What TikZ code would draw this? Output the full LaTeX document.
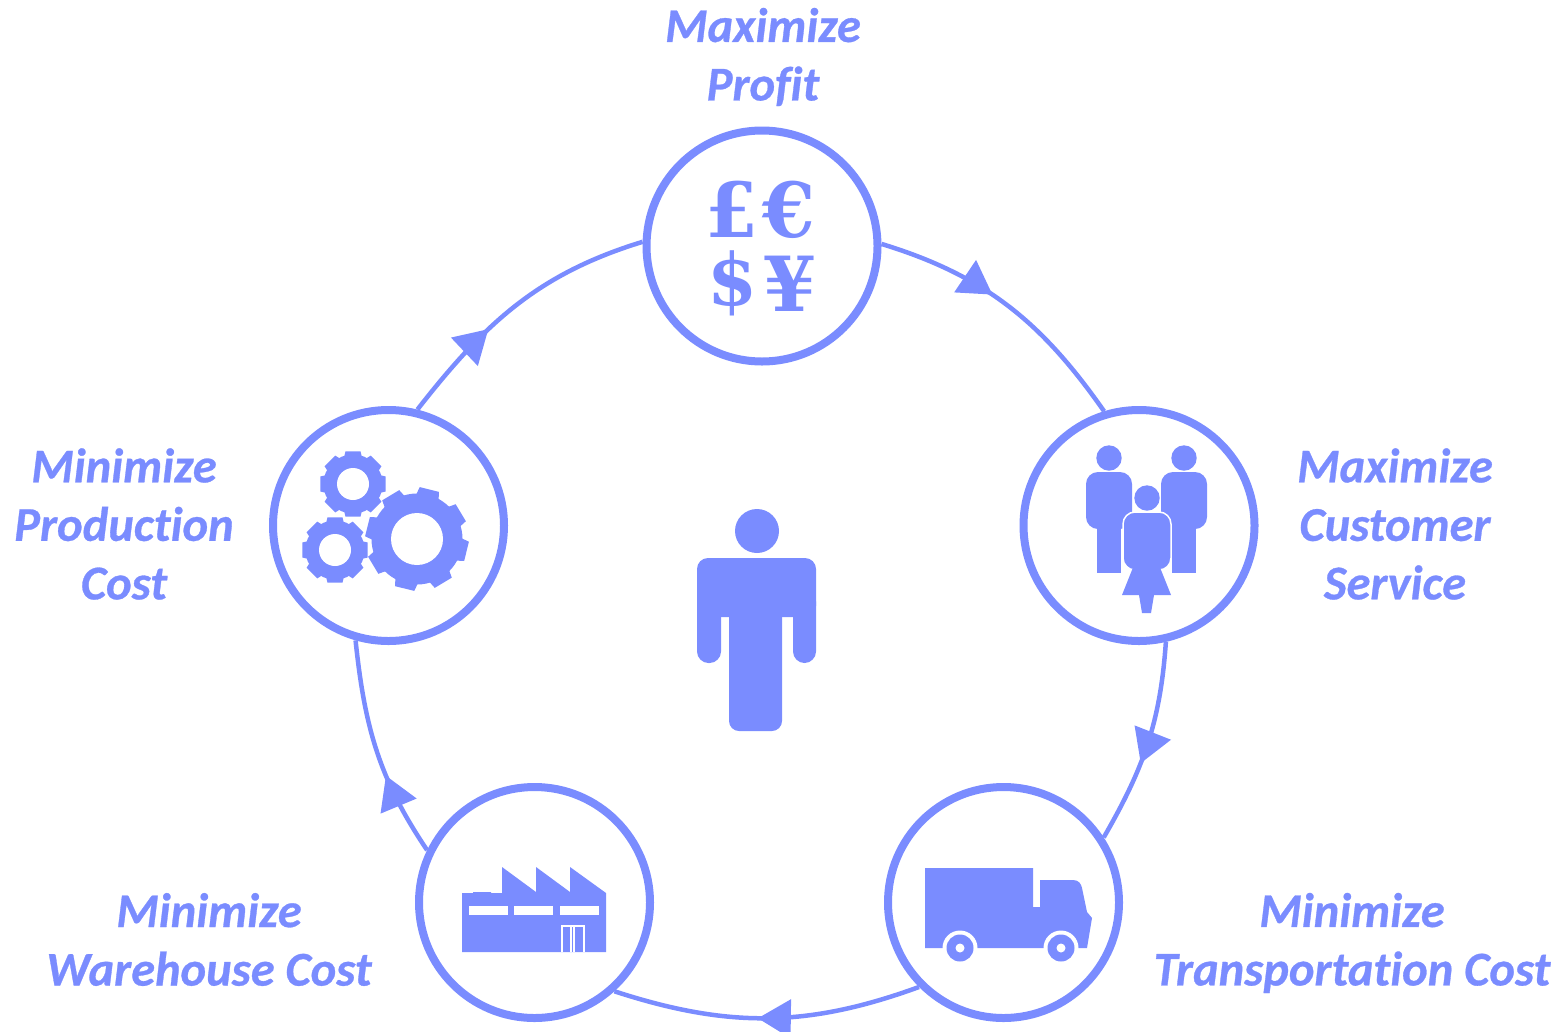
\documentclass[tikz,border=0pt]{standalone}
\usepackage{fontspec}
\setmainfont[Ligatures=NoCommon,BoldItalicFeatures={FakeBold=0.6}]{Carlito}
\newfontfamily\symfont{DejaVu Serif}
\usetikzlibrary{arrows.meta,decorations.markings}
\definecolor{ink}{HTML}{7A8CFF}
\tikzset{
  ring/.style={circle,draw=ink,fill=white,line width=8pt,inner sep=0pt,minimum size=231pt},
  label text/.style={text=ink,align=center,inner sep=0pt,font=\fontsize{48.5}{58.5}\selectfont\bfseries\itshape},
  money/.style={text=ink,inner sep=0pt,font=\fontsize{76}{76}\selectfont\symfont\bfseries},
  link/.style={draw=ink,line width=4.5pt,postaction={decorate},
    decoration={markings,mark=at position #1 with {\arrow[ink]{Triangle[length=33pt,width=38pt]}}}}
}
\newcommand{\gearicon}[6]{% cx, cy, root, outer, hole, phase
  \begin{scope}[shift={(#1,-#2)}]
    \fill[ink] (0,0) circle[radius=#3];
    \foreach \k in {0,...,7}{
      \pgfmathsetmacro{\ang}{#6+45*\k}
      \pgfmathsetmacro{\base}{#4>40?15:18}
      \pgfmathsetmacro{\tipw}{#4>40?11:13}
      \fill[ink] (\ang-\base:#3-1) -- (\ang-\tipw:#4) -- (\ang+\tipw:#4) -- (\ang+\base:#3-1) -- cycle;
    }
    \fill[white] (0,0) circle[radius=#5];
  \end{scope}
}
\begin{document}
\begin{tikzpicture}[x=1pt,y=1pt]
\useasboundingbox (0,0) rectangle (1566,-1031);
% rings
\node[ring] (profit) at (762,-246) {};
\node[ring] (service) at (1139,-525.5) {};
\node[ring] (transport) at (1003.5,-902.5) {};
\node[ring] (warehouse) at (534.5,-902.5) {};
\node[ring] (production) at (388.5,-525.5) {};
% connectors
\path[link=0.43] (profit.1.5) to[out=-17,in=125] (service.107);
\path[link=0.60] (service.-77) to[out=-94,in=60] (transport.33.5);
\path[link=0.53] (transport.225) to[out=-160,in=-18] (warehouse.-48.6);
\path[link=0.38] (warehouse.154) to[out=124,in=-84] (production.-106);
\path[link=0.375] (production.76) to[out=52,in=197] (profit.178);
% labels
\node[label text] (l1) at (763,-57) {Maximize\\Profit};
\node[label text] (l2) at (1395,-524) {Maximize\\Customer\\Service};
\node[label text] (l3) at (1352,-943) {Minimize\\Transportation Cost};
\node[label text] (l4) at (209,-939.5) {Minimize\\Warehouse Cost};
\node[label text] (l5) at (124,-524) {Minimize\\Production\\Cost};
% currency
\node[money] (pound) at (732,-209.5) {£};
\node[money] (euro) at (789,-209.5) {€};
\node[money,font=\fontsize{72}{72}\selectfont\symfont\bfseries] (dollar) at (733,-283) {\$};
\node[money] (yen) at (790,-284) {¥};
% central person
\fill[ink] (757,-531) circle[radius=22];
\fill[ink,rounded corners=11pt] (697,-558) rectangle (816,-617);
\fill[ink,rounded corners=11.5pt] (697,-590) rectangle (721,-663);
\fill[ink,rounded corners=11.5pt] (793,-590) rectangle (816,-663);
\fill[ink,rounded corners=10pt] (729,-600) rectangle (782,-731);
% family
\foreach \dx in {0,75}{
  \fill[ink] (1109+\dx,-458) circle[radius=12.7];
  \fill[ink,rounded corners=12pt] (1086+\dx,-472) rectangle (1132+\dx,-529);
  \fill[ink] (1097+\dx,-515) rectangle (1121+\dx,-573);
}
\fill[ink] (1147,-498) circle[radius=12.7];
\draw[white,line width=1.5pt,fill=ink,rounded corners=12pt] (1123,-512) rectangle (1171,-570);
\fill[ink] (1134,-565) -- (1122,-595) -- (1171,-595) -- (1159,-565) -- cycle;
\fill[ink] (1139,-595) -- (1142,-613) -- (1151,-613) -- (1154,-595) -- cycle;
% truck
\fill[ink] (925,-868) -- (1033,-868) -- (1033,-907) -- (1040,-907) -- (1040,-880) -- (1073,-880)
  .. controls (1079,-880) and (1081,-884) .. (1082,-888) -- (1087,-912) -- (1092,-918) -- (1087,-948) -- (925,-948) -- cycle;
\foreach \wx in {960,1061}{
  \fill[white] (\wx,-948) circle[radius=17.5];
  \fill[ink] (\wx,-948) circle[radius=13.5];
  \fill[white] (\wx,-948) circle[radius=4.5];
}
% factory
\fill[ink] (462,-952) -- (462,-893) -- (473,-893) -- (473,-892) -- (491,-892) -- (491,-893) -- (502,-893)
  -- (502,-867) -- (536,-892) -- (536,-867) -- (570,-892) -- (570,-867) -- (606,-893) -- (606,-952) -- cycle;
\fill[white] (469,-906) rectangle (508,-915);
\fill[white] (514,-906) rectangle (553,-915);
\fill[white] (560,-906) rectangle (599,-915);
\draw[white,line width=1.2pt] (562,-952) -- (562,-926) -- (584,-926) -- (584,-952);
\draw[white,line width=1.2pt] (571,-926) -- (571,-952) (574,-926) -- (574,-952);
% gears
\gearicon{353}{484}{29.5}{33.5}{16}{90}
\gearicon{335}{550}{29.5}{33.5}{16}{90}
\gearicon{417}{539}{45.5}{52}{26}{31}
\end{tikzpicture}
\end{document}
